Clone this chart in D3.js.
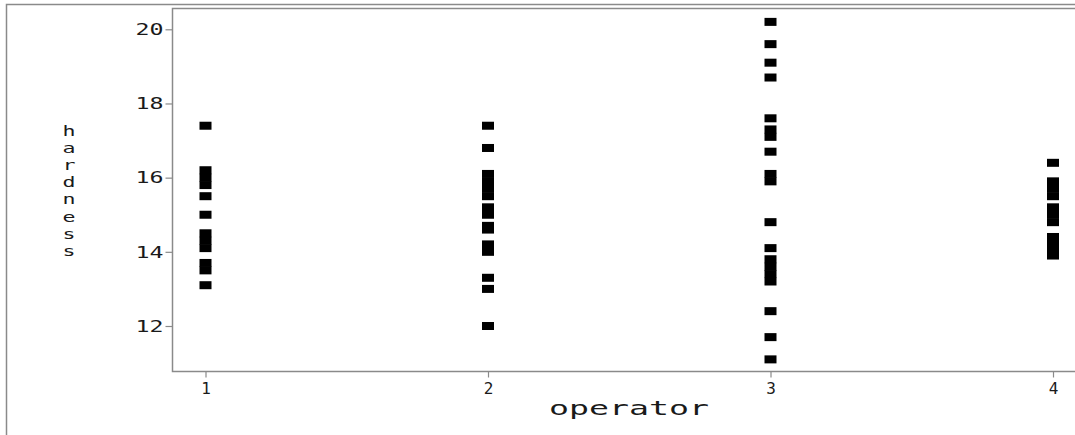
<!DOCTYPE html>
<html>
<head>
<meta charset="utf-8">
<script src="https://cdn.jsdelivr.net/npm/d3@7"></script>
<style>
  html, body { margin: 0; padding: 0; background: #fff; }
  svg { display: block; }
</style>
</head>
<body>
<div id="chart"></div>
<script>
// hardness readings for each operator
const operators = [1, 2, 3, 4];
const op1 = [17.4, 16.2, 16.0, 15.8, 15.5, 15.0, 14.5, 14.3, 14.1, 13.7, 13.5, 13.1];
const op2 = [17.4, 16.8, 16.1, 15.9, 15.7, 15.5, 15.2, 15.0, 14.7, 14.6, 14.2, 14.0, 13.3, 13.0, 12.0];
const op3 = [20.2, 19.6, 19.1, 18.7, 17.6, 17.3, 17.1, 16.7, 16.1, 15.9, 14.8, 14.1, 13.8, 13.6, 13.4, 13.2, 12.4, 11.7, 11.1];
const op4 = [16.4, 15.9, 15.7, 15.5, 15.2, 15.0, 14.8, 14.4, 14.2, 14.0, 13.9];
const yTicks = [12, 14, 16, 18, 20];

const width = 1075;
const height = 435;

const svg = d3.select('#chart').append('svg')
    .attr('width', width)
    .attr('height', height);

// outer frame (runs off the right and bottom edges)
svg.append('rect')
    .attr('x', 6.5).attr('y', 4.5)
    .attr('width', 1100).attr('height', 500)
    .attr('fill', 'none')
    .attr('stroke', '#8a8a8a')
    .attr('stroke-width', 1.5);

const plot = { left: 172.5, top: 8.5, right: 1085, bottom: 371.5 };

const x = d3.scaleLinear()
    .domain([1, 4])
    .range([205.5, 1053]);

const y = d3.scaleLinear()
    .domain([20, 12])
    .range([29.3, 326]);

// plot frame
svg.append('rect')
    .attr('x', plot.left).attr('y', plot.top)
    .attr('width', plot.right - plot.left)
    .attr('height', plot.bottom - plot.top)
    .attr('fill', 'none')
    .attr('stroke', '#8a8a8a')
    .attr('stroke-width', 1.5);

// y axis
const yAxis = svg.append('g')
    .attr('transform', `translate(${plot.left},0)`)
    .call(d3.axisLeft(y).tickValues(yTicks).tickSize(7).tickFormat(d3.format('d')));
yAxis.select('.domain').remove();
yAxis.selectAll('.tick line').attr('stroke', '#8a8a8a').attr('stroke-width', 1.2);
yAxis.selectAll('.tick text')
    .attr('x', -9)
    .attr('dy', '0.35em')
    .attr('fill', '#1a1a1a')
    .attr('font-family', 'DejaVu Sans Mono, monospace')
    .attr('font-size', 15)
    .attr('textLength', 28)
    .attr('lengthAdjust', 'spacingAndGlyphs');

// x axis
const xAxis = svg.append('g')
    .attr('transform', `translate(0,${plot.bottom})`)
    .call(d3.axisBottom(x).tickValues(operators).tickSize(6).tickFormat(d3.format('d')));
xAxis.select('.domain').remove();
xAxis.selectAll('.tick line').attr('stroke', '#8a8a8a').attr('stroke-width', 1.2);
xAxis.selectAll('.tick text')
    .attr('y', 11)
    .attr('dy', '0.71em')
    .attr('fill', '#1a1a1a')
    .attr('font-family', 'DejaVu Sans Mono, monospace')
    .attr('font-size', 16);

// axis titles
svg.append('text')
    .attr('x', 629)
    .attr('y', 415)
    .attr('text-anchor', 'middle')
    .attr('fill', '#1a1a1a')
    .attr('font-family', 'DejaVu Sans Mono, monospace')
    .attr('font-size', 19)
    .attr('textLength', 160)
    .attr('lengthAdjust', 'spacingAndGlyphs')
    .text('operator');

// y title: upright letters stacked one under another
svg.append('g')
    .selectAll('text')
    .data('hardness'.split(''))
    .enter()
    .append('text')
    .attr('x', 69)
    .attr('y', (d, i) => 136 + i * 17.1)
    .attr('text-anchor', 'middle')
    .attr('fill', '#1a1a1a')
    .attr('font-family', 'DejaVu Sans Mono, monospace')
    .attr('font-size', 14.5)
    .attr('textLength', 13)
    .attr('lengthAdjust', 'spacingAndGlyphs')
    .text(d => d);

// points
const points = [];
[op1, op2, op3, op4].forEach((vals, i) => {
    vals.forEach(v => points.push({ op: operators[i], value: v }));
});

svg.append('g')
    .selectAll('rect')
    .data(points)
    .enter()
    .append('rect')
    .attr('x', d => x(d.op) - 6)
    .attr('y', d => y(d.value) - 4)
    .attr('width', 12)
    .attr('height', 8)
    .attr('fill', '#000');
</script>
</body>
</html>
